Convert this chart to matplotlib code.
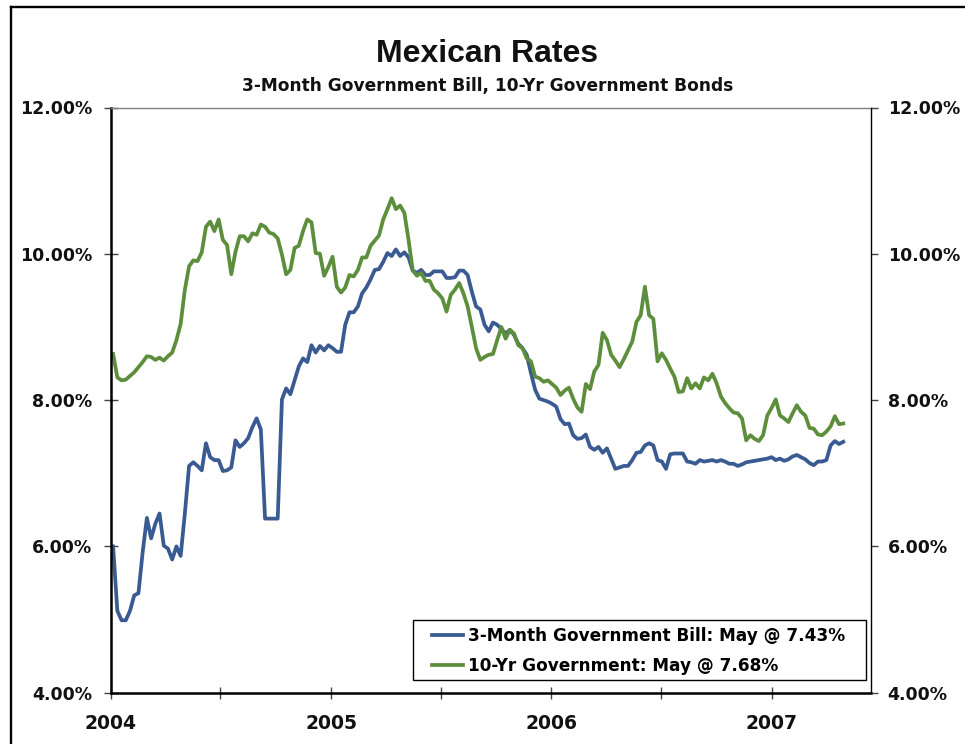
import datetime as dt
import matplotlib
matplotlib.use("Agg")
import matplotlib.pyplot as plt
import matplotlib.dates as mdates
from matplotlib.lines import Line2D
from matplotlib.patches import Rectangle
from matplotlib.ticker import FixedLocator, FuncFormatter
import pandas as pd

# ---------------- data (weekly observations) ----------------
start_date = "2004-01-05"

bill_3m = [
    6.00, 5.12, 4.99, 4.99, 5.12, 5.33, 5.36, 5.92, 6.39, 6.11,
    6.31, 6.45, 6.01, 5.97, 5.82, 6.00, 5.87, 6.45, 7.10, 7.15,
    7.10, 7.04, 7.41, 7.22, 7.18, 7.18, 7.03, 7.04, 7.08, 7.45,
    7.36, 7.41, 7.48, 7.63, 7.75, 7.60, 6.38, 6.38, 6.38, 6.38,
    8.01, 8.16, 8.08, 8.27, 8.46, 8.57, 8.52, 8.75, 8.65, 8.74,
    8.68, 8.75, 8.71, 8.66, 8.66, 9.03, 9.20,
    9.20, 9.28, 9.46, 9.54, 9.65, 9.78, 9.79, 9.89, 10.01, 9.97,
    10.06, 9.97, 10.02, 9.95, 9.77, 9.74, 9.78, 9.71, 9.71, 9.76,
    9.76, 9.76, 9.67, 9.67, 9.68, 9.77, 9.77, 9.71, 9.48, 9.28,
    9.24, 9.03, 8.94, 9.06, 9.03, 8.97, 8.91, 8.96, 8.89, 8.77,
    8.71, 8.62, 8.37, 8.14, 8.02, 8.00, 7.98, 7.95,
    7.91, 7.74, 7.67, 7.68, 7.52, 7.47, 7.48, 7.53, 7.36, 7.32,
    7.36, 7.28, 7.34, 7.20, 7.06, 7.08, 7.10, 7.10, 7.18, 7.28,
    7.29, 7.38, 7.41, 7.38, 7.18, 7.16, 7.06, 7.26, 7.27, 7.27,
    7.27, 7.16, 7.15, 7.13, 7.18,
    7.16, 7.17, 7.18, 7.16, 7.18, 7.16, 7.13, 7.13, 7.10, 7.12,
    7.15, 7.16, 7.17, 7.18, 7.19, 7.20, 7.22, 7.18, 7.20, 7.17,
    7.19, 7.23, 7.25, 7.22, 7.19, 7.14, 7.11, 7.16, 7.16, 7.18,
    7.38, 7.44, 7.40, 7.43,
]

bond_10y = [
    8.63, 8.31, 8.27, 8.28, 8.33, 8.38, 8.45, 8.52, 8.60, 8.59,
    8.55, 8.58, 8.54, 8.60, 8.65, 8.82, 9.04, 9.51, 9.83, 9.91,
    9.90, 10.02, 10.37, 10.44, 10.31, 10.47, 10.19, 10.12, 9.72, 10.03,
    10.24, 10.24, 10.17, 10.28, 10.26, 10.40, 10.37, 10.29, 10.27, 10.21,
    9.99, 9.72, 9.78, 10.08, 10.11, 10.31, 10.47, 10.43, 10.01, 10.00,
    9.70, 9.82, 9.96, 9.55, 9.47, 9.54, 9.71,
    9.69, 9.78, 9.95, 9.95, 10.11, 10.18, 10.25, 10.47, 10.61, 10.76,
    10.61, 10.66, 10.56, 10.19, 9.77, 9.70, 9.74, 9.63, 9.63, 9.51,
    9.46, 9.39, 9.21, 9.44, 9.51, 9.60, 9.46, 9.28, 9.00, 8.71,
    8.55, 8.59, 8.62, 8.63, 8.82, 9.00, 8.84, 8.96, 8.91, 8.75,
    8.71, 8.57, 8.53, 8.32, 8.30, 8.25, 8.27, 8.22,
    8.17, 8.07, 8.13, 8.17, 8.02, 7.90, 7.84, 8.22, 8.15, 8.39,
    8.48, 8.92, 8.82, 8.62, 8.54, 8.45, 8.56, 8.68, 8.80, 9.07,
    9.16, 9.55, 9.16, 9.11, 8.53, 8.64, 8.55, 8.43, 8.32, 8.11,
    8.12, 8.30, 8.16, 8.23, 8.16,
    8.31, 8.27, 8.36, 8.23, 8.05, 7.96, 7.89, 7.83, 7.82, 7.75,
    7.45, 7.52, 7.47, 7.44, 7.52, 7.79, 7.89, 8.01, 7.79, 7.75,
    7.70, 7.82, 7.93, 7.84, 7.79, 7.62, 7.61, 7.53, 7.52, 7.57,
    7.64, 7.78, 7.67, 7.68,
]

series_labels = ["3-Month Government Bill: May @ 7.43%",
                 "10-Yr Government: May @ 7.68%"]
y_ticks = [4, 6, 8, 10, 12]
title = "Mexican Rates"
subtitle = "3-Month Government Bill, 10-Yr Government Bonds"

dates = pd.date_range(start_date, periods=len(bill_3m), freq="7D")

# ---------------- figure ----------------
W, H = 965, 744
fig = plt.figure(figsize=(W / 100, H / 100), dpi=100)
fig.patch.set_facecolor("white")

ax_l, ax_r, ax_t, ax_b = 110.7, 871.0, 107.5, 692.7
ax = fig.add_axes([ax_l / W, 1 - ax_b / H, (ax_r - ax_l) / W, (ax_b - ax_t) / H])


def ax_x(px):
    return (px - ax_l) / (ax_r - ax_l)


def ax_y(py):
    return (ax_b - py) / (ax_b - ax_t)


blue = "#3A5A92"
green = "#5C8E3B"
ax.plot(dates, bill_3m, color=blue, lw=2.7, solid_joinstyle="round",
        label=series_labels[0])
ax.plot(dates, bond_10y, color=green, lw=2.7, solid_joinstyle="round",
        label=series_labels[1])

ax.set_ylim(4, 12)
ax.set_xlim(dt.date(2004, 1, 1), dt.date(2007, 6, 15))

pct = FuncFormatter(lambda v, p: f"{v:.2f}%")
ax.yaxis.set_major_locator(FixedLocator(y_ticks))
ax.yaxis.set_major_formatter(pct)
ax.tick_params(axis="y", which="major", direction="inout", length=10,
               width=1, color="#444444", pad=8.5, labelsize=12.5,
               labelcolor="#111111")
for lab in ax.get_yticklabels():
    lab.set_fontweight("bold")

ax.xaxis.set_major_locator(mdates.YearLocator())
ax.xaxis.set_major_formatter(mdates.DateFormatter("%Y"))
ax.xaxis.set_minor_locator(mdates.MonthLocator(bymonth=[7]))
ax.tick_params(axis="x", which="both", direction="inout", length=8,
               width=1, color="#444444")
ax.tick_params(axis="x", which="major", pad=11, labelsize=13.5,
               labelcolor="#111111")
for lab in ax.get_xticklabels():
    lab.set_fontweight("bold")

for s in ["left", "bottom"]:
    ax.spines[s].set_linewidth(1.8)
    ax.spines[s].set_color("black")
ax.spines["top"].set_linewidth(1.0)
ax.spines["top"].set_color("#808080")
ax.spines["right"].set_visible(False)

ax2 = ax.twinx()
ax2.set_ylim(4, 12)
ax2.yaxis.set_major_locator(FixedLocator(y_ticks))
ax2.yaxis.set_major_formatter(pct)
ax2.tick_params(axis="y", which="major", direction="out", length=5,
                width=1, color="#444444", pad=7, labelsize=12.5,
                labelcolor="#111111")
for lab in ax2.get_yticklabels():
    lab.set_fontweight("bold")
for s in ["left", "top", "bottom"]:
    ax2.spines[s].set_visible(False)
ax2.spines["right"].set_linewidth(1.0)
ax2.spines["right"].set_color("black")

# legend box
box_l, box_r, box_t, box_b = 412.7, 866.0, 620.0, 680.0
ax.add_patch(Rectangle((ax_x(box_l), ax_y(box_b)), ax_x(box_r) - ax_x(box_l),
                       ax_y(box_t) - ax_y(box_b), transform=ax.transAxes,
                       fill=True, facecolor="white", edgecolor="black",
                       lw=1.0, zorder=4))
leg = ax.legend(loc="center left",
                bbox_to_anchor=(ax_x(432), ax_y(651)),
                borderaxespad=0, frameon=False,
                prop={"family": "DejaVu Sans", "weight": "bold", "size": 12.2},
                handlelength=1.85, handletextpad=0.3, borderpad=0,
                labelspacing=0.72)
leg.set_zorder(5)
for h in leg.get_lines():
    h.set_linewidth(2.7)

# titles
fig.text(487.5 / W, 1 - 62 / H, title, ha="center", va="baseline",
         fontsize=23, fontweight="bold",
         family=["Liberation Sans", "DejaVu Sans"], color="#111111")
fig.text(488 / W, 1 - 91 / H, subtitle, ha="center", va="baseline",
         fontsize=12.25, fontweight="bold", family="DejaVu Sans",
         color="#111111")

# outer frame
fig.add_artist(Line2D([11 / W, 11 / W], [0, 1 - 7 / H], transform=fig.transFigure,
                      color="black", lw=1.7))
fig.add_artist(Line2D([11 / W, 1], [1 - 7 / H, 1 - 7 / H], transform=fig.transFigure,
                      color="black", lw=1.7))

fig.savefig("out.png", dpi=100)
